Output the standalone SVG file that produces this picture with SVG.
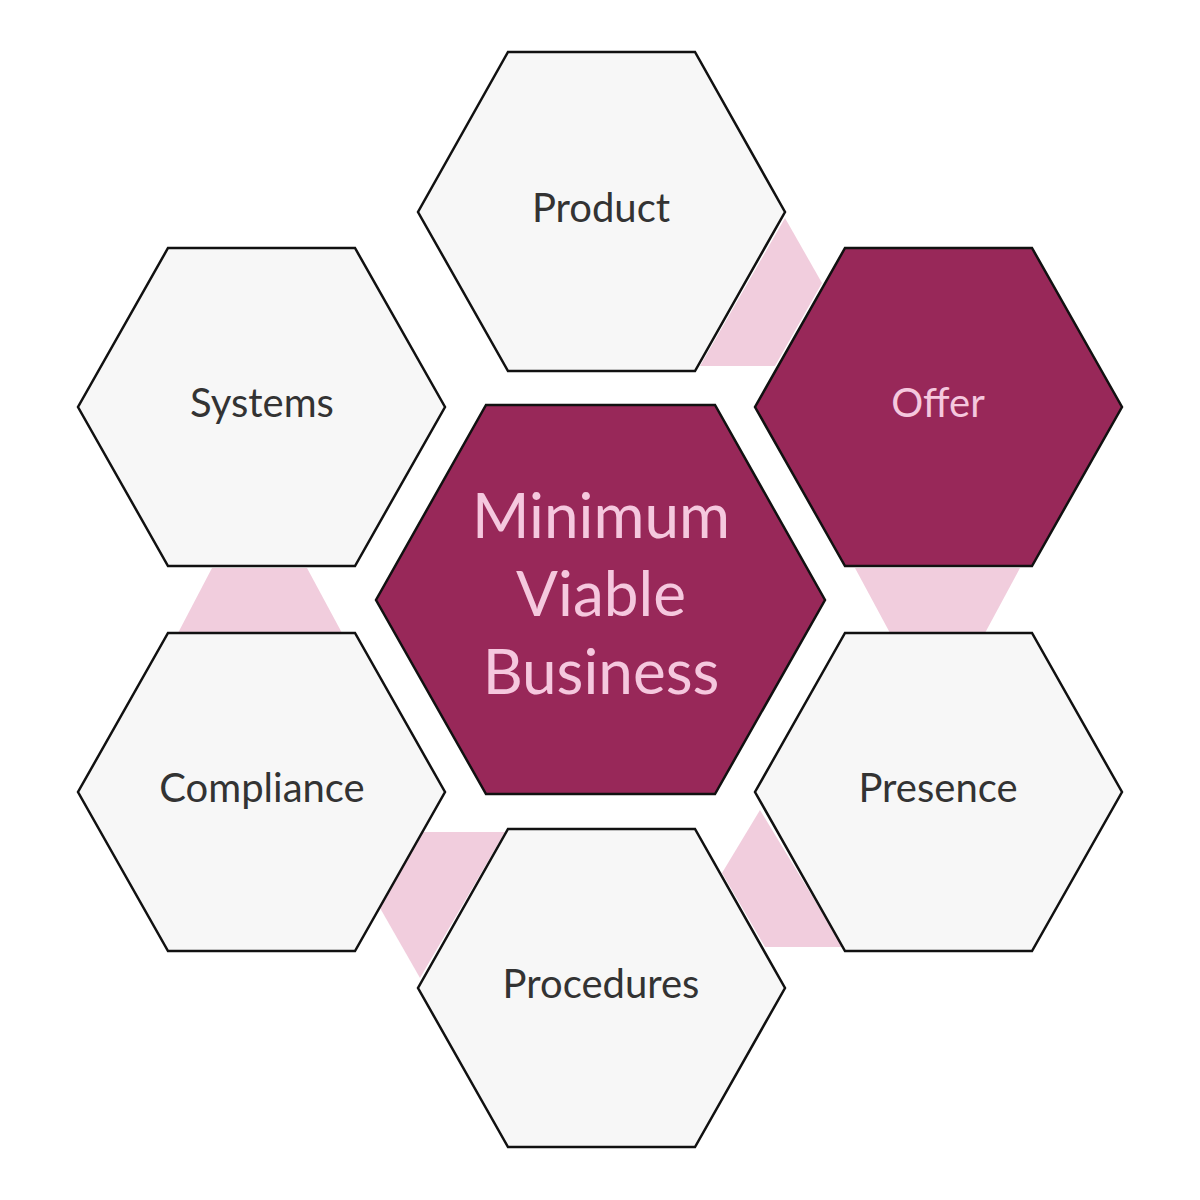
<svg xmlns="http://www.w3.org/2000/svg" width="1200" height="1200" viewBox="0 0 1200 1200">
<style>
.hex{fill:#f7f7f7;stroke:#111;stroke-width:2.5}
.dark{fill:#982859;stroke:#111;stroke-width:2.5}
.band{fill:#f1cddd}
.t{font-family:Lato,"Open Sans",sans-serif;font-size:40px;fill:#333;text-anchor:middle;dominant-baseline:middle}
.tw{font-family:Lato,"Open Sans",sans-serif;fill:#f5c8de;text-anchor:middle;dominant-baseline:middle}
</style>
<rect width="1200" height="1200" fill="#fff"/>
<g id="connectors">
<polygon class="band" points="785,218 822,283 775,366 700,366"/>
<polygon class="band" points="212,568 307,568 342,633 178,633"/>
<polygon class="band" points="855,568 1020,568 985,633 890,633"/>
<polygon class="band" points="760,810 843,947 765,947 722,873"/>
<polygon class="band" points="423,832 505,832 420,978 380,908"/>
</g>
<g id="product"><polygon class="hex" points="508,52 695,52 785,212 695,371 508,371 418,212"/><text class="t" x="601" y="212">Product</text></g>
<g id="offer"><polygon class="dark" points="845,248 1032,248 1122,407 1032,566 845,566 755,407"/><text class="tw" font-size="40" x="938" y="407">Offer</text></g>
<g id="systems"><polygon class="hex" points="168,248 355,248 445,407 355,566 168,566 78,407"/><text class="t" x="262" y="407">Systems</text></g>
<g id="compliance"><polygon class="hex" points="168,633 355,633 445,792 355,951 168,951 78,792"/><text class="t" x="262" y="792">Compliance</text></g>
<g id="presence"><polygon class="hex" points="845,633 1032,633 1122,792 1032,951 845,951 755,792"/><text class="t" x="938" y="792">Presence</text></g>
<g id="procedures"><polygon class="hex" points="508,829 695,829 785,988 695,1147 508,1147 418,988"/><text class="t" x="601" y="988">Procedures</text></g>
<g id="center"><polygon class="dark" points="486,405 715,405 825,600 715,794 486,794 376,600"/>
<text class="tw" font-size="62" x="601" y="522">Minimum</text>
<text class="tw" font-size="62" x="601" y="600">Viable</text>
<text class="tw" font-size="62" x="601" y="678">Business</text></g>
</svg>
